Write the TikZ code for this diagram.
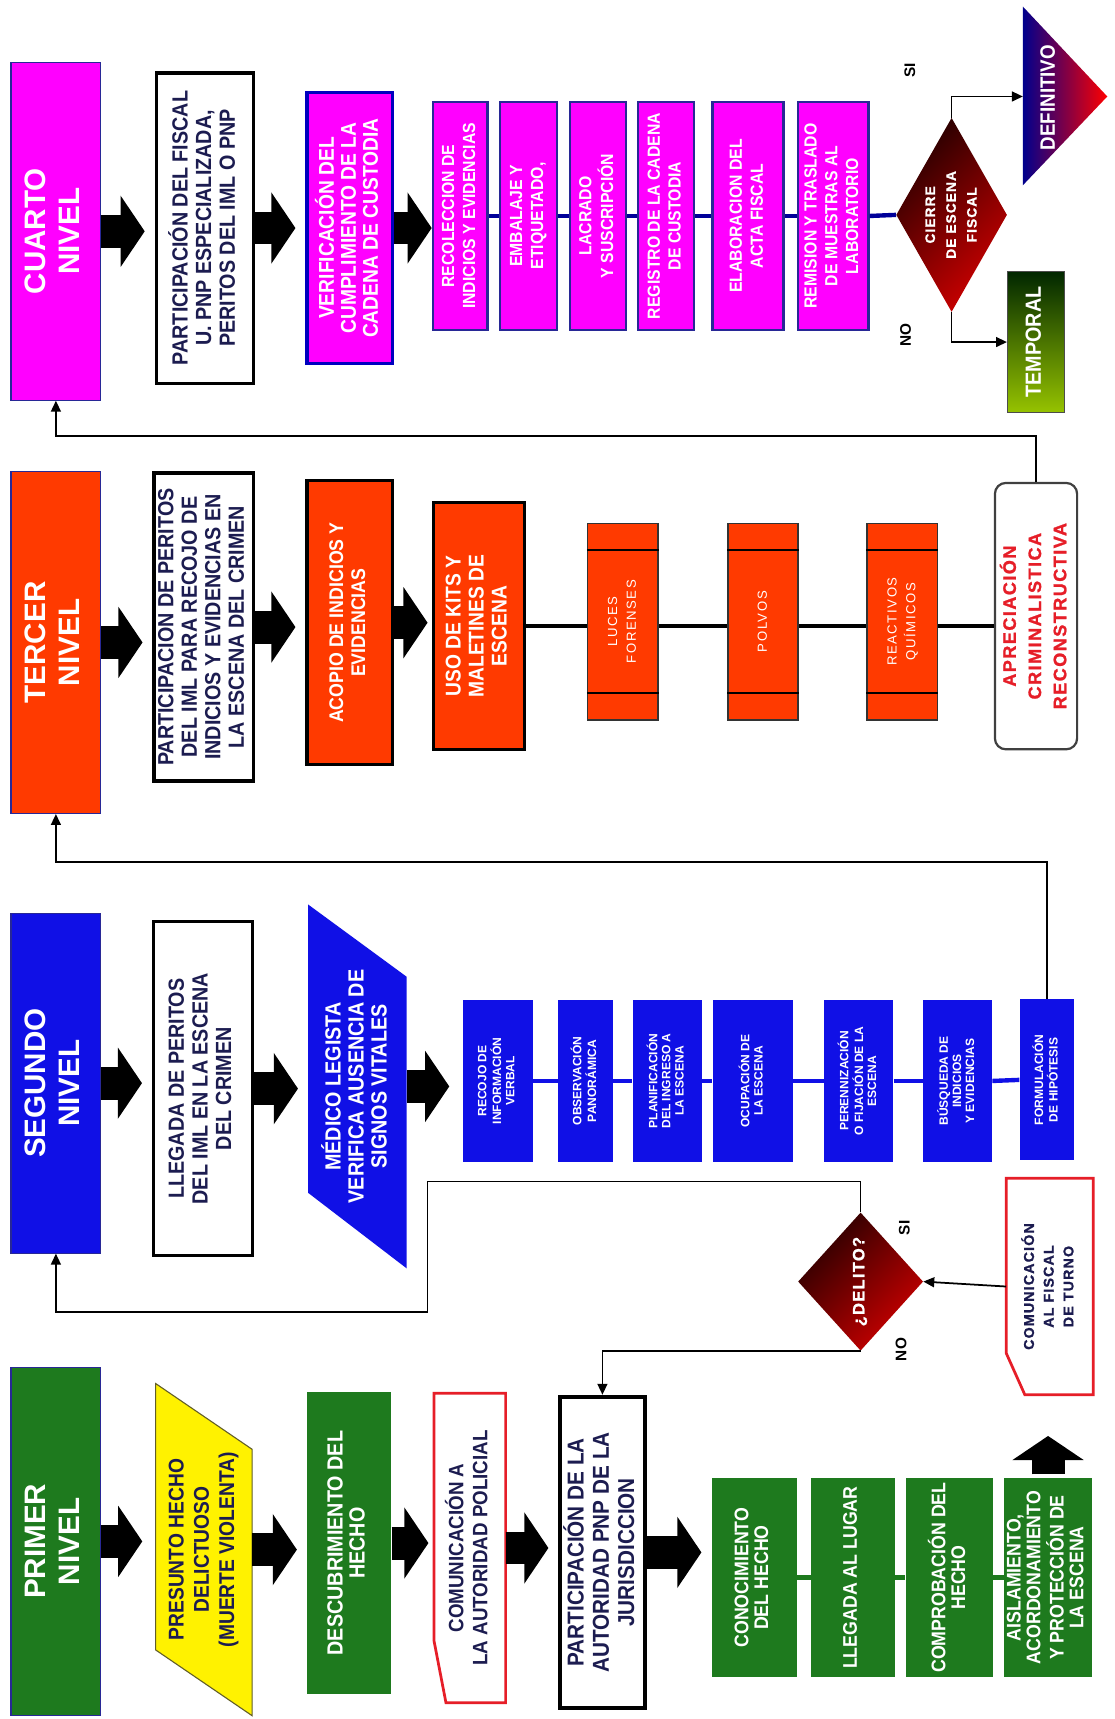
\documentclass[tikz,border=0pt]{standalone}
\usepackage{fontspec}
\setmainfont{Liberation Sans}
\newfontfamily\narrowfont{Liberation Sans}[FakeStretch=0.9]
\newfontfamily\spacedfont{Liberation Sans}[LetterSpace=12]
\newfontfamily\heavyfont{Liberation Sans}[LetterSpace=8, FakeBold=1.2]
\usetikzlibrary{arrows.meta}
\usetikzlibrary{shapes.geometric}

\definecolor{nivgreen}{RGB}{30,122,30}
\definecolor{nivblue}{RGB}{16,16,230}
\definecolor{nivred}{RGB}{255,58,0}
\definecolor{nivpink}{RGB}{255,0,255}
\definecolor{inkblue}{RGB}{28,28,80}
\definecolor{frameblue}{RGB}{40,40,150}
\definecolor{alertred}{RGB}{230,30,40}
\definecolor{limegreen}{RGB}{150,195,0}

\begin{document}
\begin{tikzpicture}[x=1pt, y=-1pt,
  every node/.style={inner sep=0pt},
  >={Triangle[length=10pt,width=9pt]},
  nivel/.style={draw=frameblue, line width=1pt, minimum width=82pt, text=white,
    font=\fontsize{27}{31}\selectfont\bfseries},
  whitebox/.style={draw=black, line width=3pt, fill=white, text=inkblue,
    font=\narrowfont\bfseries\fontsize{20}{21.5}\selectfont},
  plain/.style={text=inkblue, font=\narrowfont\bfseries\fontsize{19}{23}\selectfont},
  redbox/.style={draw=black, line width=3pt, fill=nivred, text=white,
    font=\narrowfont\bfseries\fontsize{19.5}{21}\selectfont},
  pinkbox/.style={draw=frameblue, line width=2.5pt, fill=nivpink, text=white, minimum height=208pt,
    font=\narrowfont\bfseries\fontsize{16}{19}\selectfont},
  bluebox/.style={fill=nivblue, text=white, minimum height=147pt,
    font=\bfseries\fontsize{11}{12}\selectfont},
  greenbox/.style={fill=nivgreen, text=white, minimum height=182pt,
    font=\narrowfont\bfseries\fontsize{18}{18}\selectfont},
  toolbox/.style={draw=black!80, line width=1.5pt, fill=nivred, text=white,
    minimum width=64pt, minimum height=179pt, font=\spacedfont\fontsize{12}{17}\selectfont},
  decision/.style={diamond, top color=black!85!red, bottom color=red!80!black, shading angle=45},
  fatarrow/.style={line width=30pt, -{Triangle[length=22pt,width=64pt]}, shorten >=9pt},
  link/.style={->, line width=1.6pt},
  yesno/.style={font=\bfseries\fontsize{14}{16}\selectfont}
]
%% Rotated text
%% 1 param : lines separated by \\
\newcommand{\vtext}[1]{\rotatebox{90}{\begin{tabular}{@{}c@{}}#1\end{tabular}}}

%% Tool box with bands at both ends
%% 3 params : location, name, text.
\newcommand{\tool}[3]{
\node[toolbox] (#2) at #1 {\vtext{#3}};
\draw[line width=1.5pt] ([yshift=-25pt]#2.north west) -- ([yshift=-25pt]#2.north east);
\draw[line width=1.5pt] ([yshift=25pt]#2.south west) -- ([yshift=25pt]#2.south east);
}

\fill[white] (0,0) rectangle (1017,1568);
\useasboundingbox (0,0) rectangle (1017,1568);

%% Cuarto nivel
\node[nivel, fill=nivpink, minimum height=308pt] (h4) at (51,211) {\vtext{CUARTO\\NIVEL}};
\node[whitebox, minimum width=89pt, minimum height=283pt] (p4) at (187,208)
  {\vtext{PARTICIPACIÓN DEL FISCAL\\U. PNP ESPECIALIZADA,\\PERITOS DEL IML O PNP}};
\node[pinkbox, draw=blue!75!black, line width=3pt, minimum width=78pt, minimum height=247pt,
  font=\narrowfont\bfseries\fontsize{19.5}{20}\selectfont] (v4) at (319,208)
  {\vtext{VERIFICACIÓN DEL\\CUMPLIMIENTO DE LA\\CADENA DE CUSTODIA}};
\node[pinkbox, minimum width=50pt] (k1) at (420,197) {\vtext{RECOLECCION DE\\INDICIOS Y EVIDENCIAS}};
\node[pinkbox, minimum width=52pt] (k2) at (482,197) {\vtext{EMBALAJE Y\\ETIQUETADO,}};
\node[pinkbox, minimum width=51pt] (k3) at (545.5,197) {\vtext{LACRADO\\Y SUSCRIPCIÓN}};
\node[pinkbox, minimum width=51pt] (k4) at (607.5,197) {\vtext{REGISTRO DE LA CADENA\\DE CUSTODIA}};
\node[pinkbox, minimum width=65pt] (k5) at (682.5,197) {\vtext{ELABORACION DEL\\ACTA FISCAL}};
\node[pinkbox, minimum width=64pt] (k6) at (760,197) {\vtext{REMISION Y TRASLADO\\DE MUESTRAS AL\\LABORATORIO}};
\node[decision, minimum width=101pt, minimum height=177pt] (d4) at (868,196) {};
\node[text=white, font=\heavyfont\bfseries\fontsize{12.5}{19}\selectfont] (d4t) at (d4) {\vtext{CIERRE\\DE ESCENA\\FISCAL}};
\shade[left color=blue!55!black, right color=red] (933,6) -- (1010,88) -- (933,169) -- cycle;
\coordinate (df) at (933,88);
\node[text=white, font=\narrowfont\bfseries\fontsize{19}{21}\selectfont] (dft) at (958,89) {\vtext{DEFINITIVO}};
\node[draw=black!70, line width=1pt, top color=black!85!green, bottom color=limegreen,
  minimum width=52pt, minimum height=129pt, text=white,
  font=\narrowfont\bfseries\fontsize{20}{22}\selectfont] (tp) at (945,312) {\vtext{TEMPORAL}};
\node[yesno] (si4) at (830,64) {\rotatebox{90}{SI}};
\node[yesno] (no4) at (826,306) {\rotatebox{90}{NO}};

\draw[fatarrow] (h4.east) -- (h4.east -| p4.west);
\draw[fatarrow] (p4.east) -- (p4.east -| v4.west);
\draw[fatarrow, shorten >=0pt] (v4.east) -- (v4.east -| k1.west);
\draw[blue!60!black, line width=4pt] (k1.east) -- (k2.west);
\draw[blue!60!black, line width=4pt] (k2.east) -- (k3.west);
\draw[blue!60!black, line width=4pt] (k3.east) -- (k4.west);
\draw[blue!60!black, line width=4pt] (k4.east) -- (k5.west);
\draw[blue!60!black, line width=4pt] (k5.east) -- (k6.west);
\draw[blue!60!black, line width=4pt] (k6.east) -- (d4.west);
\draw[link] (d4.north) |- (df);
\draw[link] (d4.south) |- (tp.west);

%% Tercer nivel
\node[nivel, fill=nivred, minimum height=312pt] (h3) at (51,586) {\vtext{TERCER\\NIVEL}};
\node[whitebox, minimum width=91pt, minimum height=281pt] (p3) at (186,572)
  {\vtext{PARTICIPACION DE PERITOS\\DEL  IML  PARA RECOJO DE\\INDICIOS Y EVIDENCIAS EN\\LA ESCENA DEL CRIMEN}};
\node[redbox, minimum width=78pt, minimum height=259pt, font=\narrowfont\bfseries\fontsize{18}{20}\selectfont]
  (a3) at (319,568) {\vtext{ACOPIO DE INDICIOS Y\\EVIDENCIAS}};
\node[redbox, minimum width=83pt, minimum height=225pt] (u3) at (437,571) {\vtext{USO DE KITS Y\\MALETINES DE\\ESCENA}};
\node[draw=black!75, line width=2pt, rounded corners=10pt, fill=white, minimum width=75pt, minimum height=243pt,
  text=alertred, font=\heavyfont\bfseries\fontsize{16.5}{23}\selectfont] (ap3) at (945,562)
  {\vtext{APRECIACIÓN\\CRIMINALISTICA\\RECONSTRUCTIVA}};
\draw[line width=4pt] (u3.east) -- (u3.east -| ap3.west);
\tool{(568,567)}{l3}{LUCES\\FORENSES}
\tool{(696,567)}{po3}{POLVOS}
\tool{(823,567)}{rq3}{REACTIVOS\\QUÍMICOS}

\draw[fatarrow] (h3.east) -- (h3.east -| p3.west);
\draw[fatarrow] (p3.east) -- (p3.east -| a3.west);
\draw[fatarrow, shorten >=4pt] (a3.east) -- (a3.east -| u3.west);
\draw[link] (ap3.north) -- ++(0,-42) -| (h4.south);

%% Segundo nivel
\node[nivel, fill=nivblue, minimum height=310pt] (h2) at (51,988) {\vtext{SEGUNDO\\NIVEL}};
\node[whitebox, minimum width=90pt, minimum height=305pt] (p2) at (185,993)
  {\vtext{LLEGADA DE  PERITOS\\DEL  IML  EN LA ESCENA\\DEL CRIMEN}};
\fill[nivblue] (281,825) -- (371,891) -- (371,1157) -- (281,1088) -- cycle;
\node[text=white, font=\narrowfont\bfseries\fontsize{20}{21}\selectfont, minimum width=90pt, minimum height=332pt]
  (m2) at (326,991) {\vtext{MÉDICO LEGISTA\\VERIFICA AUSENCIA DE\\SIGNOS VITALES}};
\node[bluebox, minimum width=64pt] (b1) at (454,986) {\vtext{RECOJO  DE\\INFORMACIÓN\\VERBAL}};
\node[bluebox, minimum width=50pt] (b2) at (534,986) {\vtext{OBSERVACIÓN\\PANORÁMICA}};
\node[bluebox, minimum width=63pt] (b3) at (608.5,986) {\vtext{PLANIFICACIÓN\\DEL INGRESO A\\LA ESCENA}};
\node[bluebox, minimum width=73pt] (b4) at (686.5,986) {\vtext{OCUPACIÓN DE\\LA ESCENA}};
\node[bluebox, minimum width=63pt] (b5) at (783.5,986) {\vtext{PERENNIZACIÓN\\O FIJACIÓN DE LA\\ESCENA}};
\node[bluebox, minimum width=63pt] (b6) at (873.5,986) {\vtext{BÚSQUEDA DE\\INDICIOS\\Y EVIDENCIAS}};
\node[bluebox, minimum width=50pt] (b7) at (955,985) {\vtext{FORMULACIÓN\\DE HIPÓTESIS}};
\draw[nivblue, line width=4pt] (b1.east) -- (b2.west);
\draw[nivblue, line width=4pt] (b2.east) -- (b3.west);
\draw[nivblue, line width=4pt] (b3.east) -- (b4.west);
\draw[nivblue, line width=4pt] (b4.east) -- (b5.west);
\draw[nivblue, line width=4pt] (b5.east) -- (b6.west);
\draw[nivblue, line width=4pt] (b6.east) -- (b7.west);
\node[decision, minimum width=114pt, minimum height=126pt] (dl) at (785,1169) {};
\node[text=white, font=\heavyfont\bfseries\fontsize{15}{17}\selectfont] (dlt) at (dl) {\vtext{¿DELITO?}};
\node[plain, font=\heavyfont\bfseries\fontsize{13}{18}\selectfont, minimum width=79pt, minimum height=197pt]
  (cf) at (957.5,1173.5) {\vtext{COMUNICACIÓN\\AL  FISCAL\\DE TURNO}};
\draw[alertred, line width=2.5pt] (cf.north west) -- (cf.north east) -- (cf.south east)
  -- ([xshift=17pt]cf.south west) -- ([yshift=38pt]cf.south west) -- cycle;
\node[yesno] (si2) at (825,1120) {\rotatebox{90}{SI}};
\node[yesno] (no2) at (822,1231) {\rotatebox{90}{NO}};

\draw[fatarrow] (h2.east) -- (h2.east -| p2.west);
\draw[fatarrow] (p2.east) -- (p2.east -| m2.west);
\draw[fatarrow, shorten >=12pt] (m2.east) -- (m2.east -| b1.west);
\draw[link] (b7.north) -- ++(0,-125) -| (h3.south);
\draw[link] (dl.north) -- ++(0,-28) -- ++(-395,0) -- ++(0,119) -| (h2.south);
\draw[link] (cf.west) -- (dl.east);

%% Primer nivel
\node[nivel, fill=nivgreen, minimum height=318pt] (h1) at (51,1406) {\vtext{PRIMER\\NIVEL}};
\filldraw[fill=yellow, draw=olive!60!black, line width=1pt] (142,1262) -- (230,1322) -- (230,1565) -- (142,1505) -- cycle;
\node[plain, font=\narrowfont\bfseries\fontsize{19.5}{23}\selectfont, minimum width=88pt, minimum height=303pt]
  (ph) at (186,1413.5) {\vtext{PRESUNTO HECHO\\DELICTUOSO\\(MUERTE VIOLENTA)}};
\node[fill=nivgreen, text=white, minimum width=77pt, minimum height=275pt,
  font=\narrowfont\bfseries\fontsize{20}{20}\selectfont] (ds) at (318.5,1407.5) {\vtext{DESCUBRIMIENTO DEL\\HECHO}};
\node[plain, font=\narrowfont\bfseries\fontsize{19}{22}\selectfont, minimum width=65pt, minimum height=282pt]
  (cp) at (428.5,1412) {\vtext{COMUNICACIÓN  A\\LA AUTORIDAD POLICIAL}};
\draw[alertred, line width=2.5pt] (cp.north west) -- (cp.north east) -- (cp.south east)
  -- ([xshift=11pt]cp.south west) -- ([yshift=57pt]cp.south west) -- cycle;
\node[whitebox, line width=3.5pt, minimum width=77pt, minimum height=284pt,
  font=\narrowfont\bfseries\fontsize{21}{23}\selectfont] (pa) at (549.5,1416)
  {\vtext{PARTICIPACIÓN DE LA\\AUTORIDAD PNP DE LA\\JURISDICCION}};
\node[greenbox, minimum width=78pt] (g1) at (688,1439) {\vtext{CONOCIMIENTO\\DEL HECHO}};
\node[greenbox, minimum width=76pt] (g2) at (778,1439) {\vtext{LLEGADA AL LUGAR}};
\node[greenbox, minimum width=80pt] (g3) at (866,1439) {\vtext{COMPROBACIÓN DEL\\HECHO}};
\node[greenbox, minimum width=80pt] (g4) at (956,1439) {\vtext{AISLAMIENTO,\\ACORDONAMIENTO\\Y PROTECCIÓN DE\\LA ESCENA}};
\draw[nivgreen, line width=4pt] (g1.east) -- (g2.west);
\draw[nivgreen, line width=4pt] (g2.east) -- (g3.west);
\draw[nivgreen, line width=4pt] (g3.east) -- (g4.west);

\draw[fatarrow, shorten >=12pt] (h1.east) -- (h1.east -| ph.west);
\draw[fatarrow] (ph.east) -- (ph.east -| ds.west);
\draw[fatarrow, shorten >=5pt] (ds.east) -- (ds.east -| cp.west);
\draw[fatarrow] (cp.east) -- (cp.east -| pa.west);
\draw[fatarrow] (pa.east) -- (pa.east -| g1.west);
\draw[fatarrow, shorten <=3pt, shorten >=0pt] (g4.north) -- ++(0,-38);
\draw[link] (dl.south) -| (pa.north);
\end{tikzpicture}
\end{document}
